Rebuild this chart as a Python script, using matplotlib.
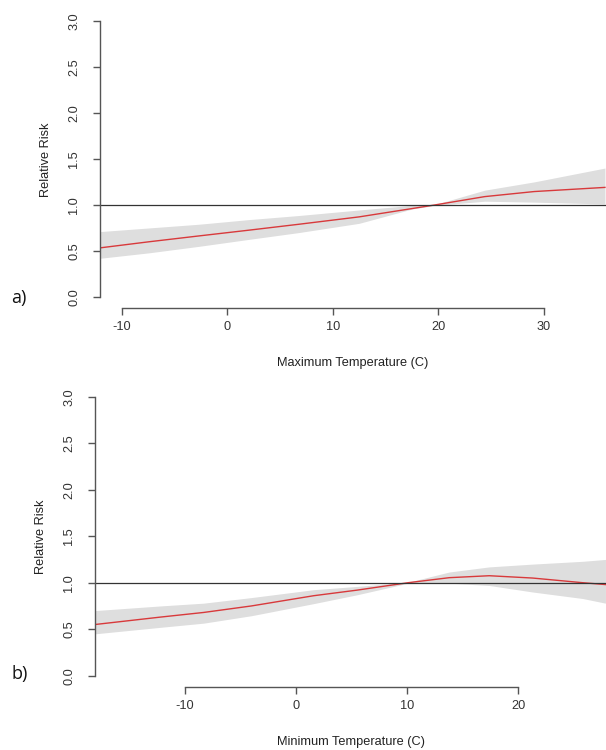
import numpy as np
import matplotlib.pyplot as plt

# panel a) maximum temperature
tmax = [-12.1, -7.4, -2.7, 2.0, 6.8, 12.5, 17.5, 19.7, 24.4, 29.1, 35.8]
rr_max = [0.533, 0.60, 0.663, 0.725, 0.79, 0.87, 0.96, 1.0, 1.09, 1.145, 1.19]
lo_max = [0.42, 0.48, 0.55, 0.625, 0.70, 0.80, 0.955, 0.995, 1.04, 1.03, 1.01]
hi_max = [0.71, 0.75, 0.79, 0.84, 0.885, 0.945, 0.995, 1.005, 1.16, 1.25, 1.40]

# panel b) minimum temperature
tmin = [-18.1, -12.2, -8.3, -4.0, 1.6, 5.5, 10.1, 13.8, 17.4, 21.3, 25.8, 27.85]
rr_min = [0.55, 0.63, 0.68, 0.75, 0.86, 0.92, 1.0, 1.054, 1.075, 1.05, 1.0, 0.98]
lo_min = [0.45, 0.52, 0.565, 0.645, 0.775, 0.87, 0.995, 0.995, 0.97, 0.90, 0.83, 0.78]
hi_min = [0.70, 0.75, 0.78, 0.84, 0.925, 0.96, 1.005, 1.115, 1.17, 1.20, 1.23, 1.25]

yticks = [0.0, 0.5, 1.0, 1.5, 2.0, 2.5, 3.0]

plt.rcParams['font.family'] = ['Liberation Sans', 'DejaVu Sans']

W, H = 606, 750
fig = plt.figure(figsize=(W / 100, H / 100), dpi=100)


def px_axes(x0, x1, ytop, ybot):
    return fig.add_axes([x0 / W, 1 - ybot / H, (x1 - x0) / W, (ybot - ytop) / H])


def panel(ax, x, rr, lo, hi, xlim, ylim, xticks, xlabel, tag, ylab_xy, xlab_xy, tag_xy):
    ax.fill_between(x, lo, hi, color='#dedede', lw=0)
    ax.plot(x, rr, color='#d8393b', lw=1.0)
    ax.axhline(1.0, color='#333333', lw=0.9)
    ax.set_xlim(*xlim)
    ax.set_ylim(*ylim)
    for s in ['top', 'right']:
        ax.spines[s].set_visible(False)
    ax.spines['left'].set_bounds(0, 3)
    ax.spines['bottom'].set_bounds(xticks[0], xticks[-1])
    for s in ['left', 'bottom']:
        ax.spines[s].set_color('#555555')
        ax.spines[s].set_linewidth(1.0)
    ax.set_yticks(yticks)
    ax.set_yticklabels([f'{v:.1f}' for v in yticks], rotation=90, va='center')
    ax.set_xticks(xticks)
    ax.set_xticklabels([str(v) for v in xticks])
    ax.tick_params(axis='both', direction='out', length=5, width=1.0,
                   color='#555555', labelcolor='#333333', labelsize=9.2)
    ax.tick_params(axis='y', pad=9)
    ax.tick_params(axis='x', pad=4.5)
    ax.patch.set_alpha(0)
    fig.text(ylab_xy[0] / W, 1 - ylab_xy[1] / H, 'Relative Risk', rotation=90,
             ha='center', va='center', fontsize=9.2, color='#222222')
    fig.text(xlab_xy[0] / W, 1 - xlab_xy[1] / H, xlabel,
             ha='center', va='center', fontsize=9.2, color='#222222')
    fig.text(tag_xy[0] / W, 1 - tag_xy[1] / H, tag, ha='center', va='center',
             fontsize=13, color='#111111', family=['Open Sans', 'DejaVu Sans'])


# top panel: y 0 -> px 297, 3 -> px 20.7 ; x-axis line at px 308
s1 = (297 - 20.7) / 3
ax1 = px_axes(99.7, 606, 14, 308)
panel(ax1, tmax, rr_max, lo_max, hi_max,
      (-12.1, 35.9), (-(308 - 297) / s1, 3 + (20.7 - 14) / s1),
      [-10, 0, 10, 20, 30], 'Maximum Temperature (C)', 'a)',
      (45.6, 160), (353, 363), (19, 298))

# bottom panel: y 0 -> px 675.7, 3 -> px 396.7 ; x-axis line at px 687
s2 = (675.7 - 396.7) / 3
ax2 = px_axes(94.7, 606, 390, 687)
panel(ax2, tmin, rr_min, lo_min, hi_min,
      (-18.1, 27.9), (-(687 - 675.7) / s2, 3 + (396.7 - 390) / s2),
      [-10, 0, 10, 20], 'Minimum Temperature (C)', 'b)',
      (40.6, 537), (351, 742), (20, 674))

fig.savefig('out.png', dpi=100)
